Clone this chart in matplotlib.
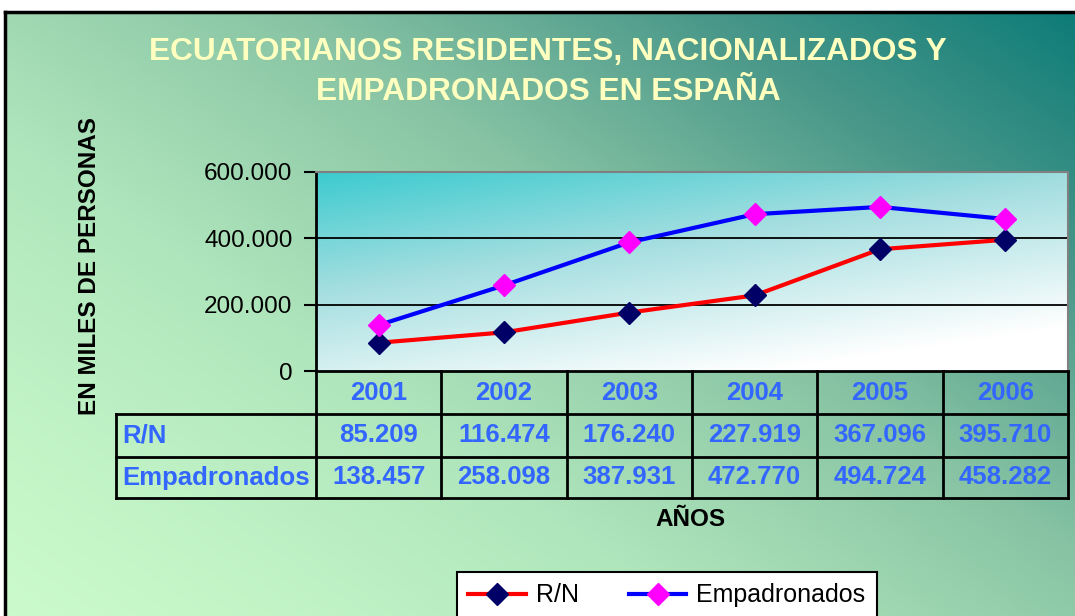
import numpy as np
import matplotlib
matplotlib.use("Agg")
import matplotlib.pyplot as plt
from matplotlib.colors import LinearSegmentedColormap
from matplotlib.transforms import blended_transform_factory
from matplotlib.ticker import FuncFormatter
from matplotlib.lines import Line2D

plt.rcParams['font.family'] = ['Liberation Sans', 'DejaVu Sans']

# ---- data ----
years = ['2001', '2002', '2003', '2004', '2005', '2006']
rn = [85209, 116474, 176240, 227919, 367096, 395710]
empadronados = [138457, 258098, 387931, 472770, 494724, 458282]
series_names = ['R/N', 'Empadronados']
yticks = [0, 200000, 400000, 600000]
title = "ECUATORIANOS RESIDENTES, NACIONALIZADOS Y\nEMPADRONADOS EN ESPAÑA"
ylabel = "EN MILES DE PERSONAS"
xlabel = "AÑOS"

W, H = 1075, 616
fig = plt.figure(figsize=(W / 100, H / 100), dpi=100)
fig.patch.set_facecolor('white')

def fx(px):
    return px / W

def fy(py):
    return 1 - py / H

# ---- background gradient ----
bg = fig.add_axes([fx(5), 0, 1 - fx(5), fy(12)])
bg.set_xlim(0, 1)
bg.set_ylim(0, 1)
n = 300
xx, yy = np.meshgrid(np.linspace(0, 1, n), np.linspace(0, 1, n))
t = (xx * 0.55 + yy * 0.45)
bg_cmap = LinearSegmentedColormap.from_list(
    'bg', [(0.0, '#CBFBCC'), (0.3, '#B0E6BC'), (0.55, '#88C4A4'), (0.78, '#4A988A'), (1.0, '#0E7C78')])
bg.imshow(t ** 1.15, cmap=bg_cmap, extent=[0, 1, 0, 1], origin='lower', aspect='auto', vmin=0, vmax=1)
bg.set_xticks([])
bg.set_yticks([])
for s in ['right', 'bottom']:
    bg.spines[s].set_visible(False)
for s in ['top', 'left']:
    bg.spines[s].set_linewidth(2.5)
    bg.spines[s].set_color('black')
bg.set_zorder(0)

# ---- main axes ----
L, R, T, B = 316, 1068, 172, 371
ax = fig.add_axes([fx(L), fy(B), fx(R) - fx(L), fy(T) - fy(B)])
ax.set_zorder(1)
ax.patch.set_alpha(0)
gx, gy = np.meshgrid(np.linspace(0, 1, n), np.linspace(0, 1, n))
g = np.clip((gx * 0.5 + (1 - gy) * 0.9) / 1.2, 0, 1)
pa_cmap = LinearSegmentedColormap.from_list('pa', [(0.0, '#3CCBCF'), (0.45, '#A4DEE0'), (1.0, '#FFFFFF')])
ax.imshow(g, cmap=pa_cmap, extent=[0, 1, 1, 0], transform=ax.transAxes, aspect='auto', zorder=0, vmin=0, vmax=1)

x = np.arange(len(years))
ax.plot(x, rn, color='#FF0000', lw=3, marker='D', ms=11, mfc='#000066', mec='#000066', zorder=3, label=series_names[0])
ax.plot(x, empadronados, color='#0000FF', lw=3, marker='D', ms=11, mfc='#FF00FF', mec='#FF00FF', zorder=3, label=series_names[1])

ax.set_xlim(-0.5, len(years) - 0.5)
ax.set_ylim(0, 600000)
ax.set_yticks(yticks)
ax.yaxis.set_major_formatter(FuncFormatter(lambda v, p: f"{int(v):,}".replace(',', '.')))
ax.tick_params(axis='y', direction='out', length=9, width=1.5, pad=8, labelsize=17.5, colors='black')
ax.set_xticks([])
for yv in yticks[1:3]:
    ax.axhline(yv, color='black', lw=1.3, zorder=1)
ax.spines['left'].set_linewidth(2)
ax.spines['left'].set_color('black')
ax.spines['bottom'].set_linewidth(2)
ax.spines['top'].set_color('#808080')
ax.spines['top'].set_linewidth(1.5)
ax.spines['right'].set_color('#808080')
ax.spines['right'].set_linewidth(1.5)

# ---- data table ----
tr = blended_transform_factory(ax.transData, ax.transAxes)
rowh = 43 / (B - T)
label_left = -0.5 - (L - 116) / ((R - L) / len(years))
tcolor = '#3366FF'
tfs = 18.5
ys = [0, -rowh, -2 * rowh, -127 / (B - T)]
lk = dict(color='black', lw=2, transform=tr, clip_on=False, zorder=2)
for yv in ys[1:]:
    ax.plot([label_left, len(years) - 0.5], [yv, yv], **lk)
for xv in np.arange(len(years) + 1) - 0.5:
    ax.plot([xv, xv], [ys[0], ys[3]], **lk)
ax.plot([label_left, label_left], [ys[1], ys[3]], **lk)

for i, yr in enumerate(years):
    ax.text(i, (ys[0] + ys[1]) / 2, yr, transform=tr, ha='center', va='center',
            fontsize=tfs, fontweight='bold', color=tcolor, clip_on=False)
fmt = lambda v: f"{v:,}".replace(',', '.')
for r, (name, vals) in enumerate([(series_names[0], rn), (series_names[1], empadronados)]):
    yc = (ys[r + 1] + ys[r + 2]) / 2
    ax.text(label_left + 0.05, yc, name, transform=tr, ha='left', va='center',
            fontsize=tfs, fontweight='bold', color=tcolor, clip_on=False)
    for i, v in enumerate(vals):
        ax.text(i, yc, fmt(v), transform=tr, ha='center', va='center',
                fontsize=tfs, fontweight='bold', color=tcolor, clip_on=False)

# ---- texts ----
fig.text(fx(548), fy(72), title, ha='center', va='center', fontsize=22.8, fontweight='bold',
         color='#FFFFC0', linespacing=1.4, zorder=5)
fig.text(fx(90), fy(266), ylabel, rotation=90, ha='center', va='center', fontsize=17.5,
         fontweight='bold', color='black', zorder=5)
fig.text(fx(690), fy(520), xlabel, ha='center', va='center', fontsize=17.5,
         fontweight='bold', color='black', zorder=5)

# ---- legend ----
handles = [
    Line2D([], [], color='#FF0000', lw=3, marker='D', ms=11, mfc='#000066', mec='#000066'),
    Line2D([], [], color='#0000FF', lw=3, marker='D', ms=11, mfc='#FF00FF', mec='#FF00FF'),
]
leg = fig.legend(handles, series_names, loc='upper center', bbox_to_anchor=(fx(667), fy(572)),
                 ncol=2, fontsize=18, frameon=True, fancybox=False, edgecolor='black',
                 facecolor='white', framealpha=1, handlelength=2.3, columnspacing=2.0,
                 borderpad=0.45, handletextpad=0.4, borderaxespad=0)
leg.get_frame().set_linewidth(1.5)
leg.set_zorder(6)

fig.savefig('out.png', dpi=100)
